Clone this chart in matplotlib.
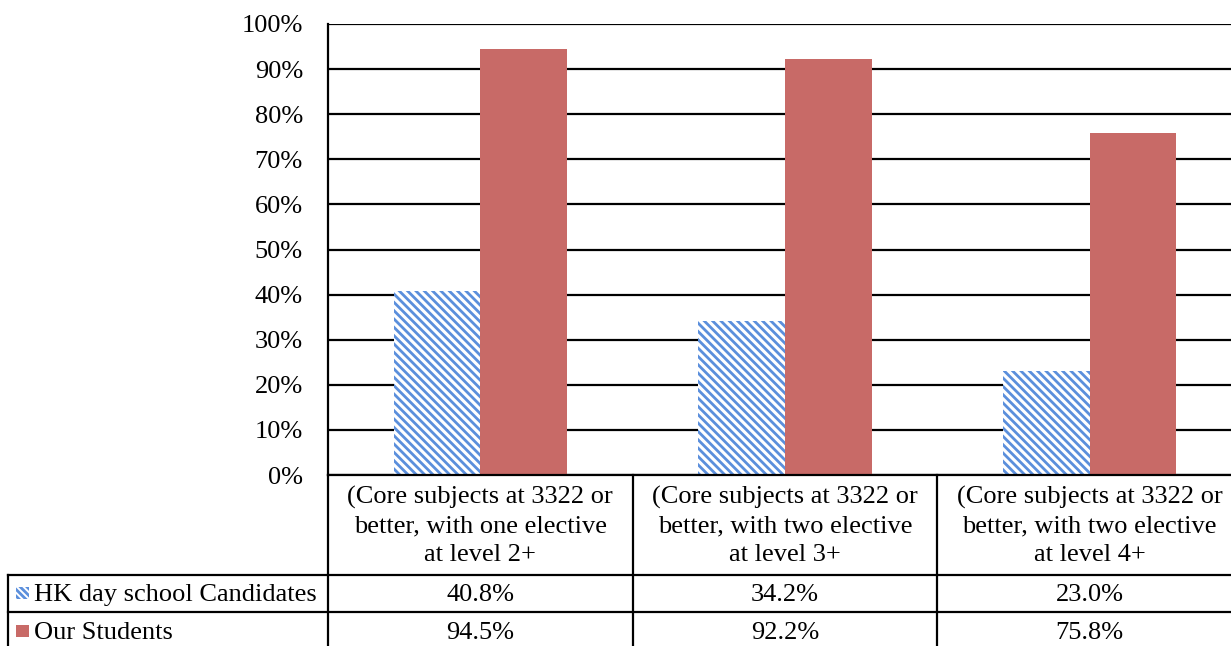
import numpy as np
import matplotlib.pyplot as plt
from matplotlib.patches import Rectangle

plt.rcParams['font.family'] = ['Liberation Serif', 'DejaVu Serif']
plt.rcParams['hatch.linewidth'] = 2.0

categories = ["(Core subjects at 3322 or\nbetter, with one elective\nat level 2+",
              "(Core subjects at 3322 or\nbetter, with two elective\nat level 3+",
              "(Core subjects at 3322 or\nbetter, with two elective\nat level 4+"]
series_names = ["HK day school Candidates", "Our Students"]
hk_day_school = [40.8, 34.2, 23.0]
our_students = [94.5, 92.2, 75.8]
y_ticks = list(range(0, 101, 10))

BLUE = '#5b8fdc'
RED = '#c86a67'
FS = 19

W, H = 1231, 646
fig = plt.figure(figsize=(W / 100, H / 100), dpi=100)
# plot area runs past the right edge of the figure, as the table does
ax = fig.add_axes([328 / W, 171 / H, 914 / W, 451 / H])

x = np.arange(len(categories))
bw = 0.285
ax.bar(x - bw / 2, hk_day_school, bw, facecolor='white', edgecolor=BLUE,
       hatch='\\\\\\\\', linewidth=0, zorder=2)
ax.bar(x + bw / 2, our_students, bw, color=RED, linewidth=0, zorder=2)

ax.set_xlim(-0.5, 2.5)
ax.set_ylim(0, 100)
ax.set_yticks(y_ticks)
ax.set_yticklabels([f"{t}%" for t in y_ticks], fontsize=FS)
ax.tick_params(axis='y', length=0, pad=18)
ax.set_xticks([])
ax.yaxis.grid(True, color='black', linewidth=1.6)
ax.set_axisbelow(True)
for side in ['top', 'right']:
    ax.spines[side].set_visible(False)
for side in ['left', 'bottom']:
    ax.spines[side].set_color('black')
    ax.spines[side].set_linewidth(1.6)

# data table underneath the axes
def ay(py):
    return (475 - py) / 451

px_per_unit = 914 / 3
def dx(px):
    return -0.5 + (px - 328) / px_per_unit

tr = ax.get_xaxis_transform()
bottom = ay(660)
lc = dict(color='black', linewidth=1.6, clip_on=False, transform=tr)
for xb in [-0.5, 0.5, 1.5]:
    ax.plot([xb, xb], [0, bottom], **lc)
ax.plot([dx(8), dx(8)], [ay(575), bottom], **lc)
for py in [575, 612]:
    ax.plot([dx(8), 2.6], [ay(py), ay(py)], **lc)

for i, cat in enumerate(categories):
    ax.text(i, ay(526), cat, ha='center', va='center', fontsize=FS,
            linespacing=1.38, transform=tr, clip_on=False)

rows = [hk_day_school, our_students]
row_y = [595, 633]
for vals, py in zip(rows, row_y):
    for i, v in enumerate(vals):
        ax.text(i, ay(py), f"{v:.1f}%", ha='center', va='center',
                fontsize=FS, transform=tr, clip_on=False)

# legend keys in the row headers
key_w = 13 / px_per_unit
key_h = 12 / 451
ax.add_patch(Rectangle((dx(16), ay(599)), key_w, key_h, transform=tr,
                       facecolor='white', edgecolor=BLUE, hatch='\\\\\\\\\\',
                       linewidth=0, clip_on=False))
ax.add_patch(Rectangle((dx(16), ay(637)), key_w, key_h, transform=tr,
                       facecolor=RED, linewidth=0, clip_on=False))
for name, py in zip(series_names, row_y):
    ax.text(dx(34), ay(py), name, ha='left', va='center', fontsize=FS,
            transform=tr, clip_on=False)

fig.savefig('out.png', dpi=100)
